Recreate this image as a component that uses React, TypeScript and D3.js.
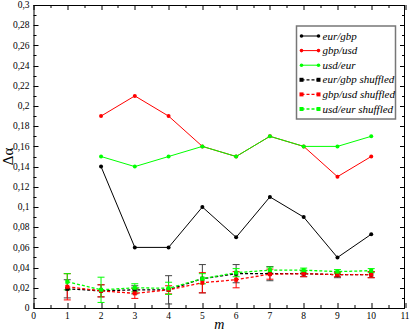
import React from 'react';
import * as d3 from 'd3';

// m values
const mMain = [2, 3, 4, 5, 6, 7, 8, 9, 10];
const mShuf = [1, 2, 3, 4, 5, 6, 7, 8, 9, 10];

const eurGbp = [0.14, 0.06, 0.06, 0.10, 0.07, 0.11, 0.09, 0.05, 0.073];
const gbpUsd = [0.19, 0.21, 0.19, 0.16, 0.15, 0.17, 0.16, 0.13, 0.15];
const usdEur = [0.15, 0.14, 0.15, 0.16, 0.15, 0.17, 0.16, 0.16, 0.17];

const eurGbpSh = [0.019, 0.017, 0.018, 0.018, 0.029, 0.034, 0.034, 0.034, 0.033, 0.033];
const eurGbpShErr = [0.009, 0.006, 0.004, 0.014, 0.014, 0.009, 0.007, 0.003, 0.003, 0.003];
const gbpUsdSh = [0.021, 0.017, 0.0145, 0.018, 0.025, 0.028, 0.0335, 0.034, 0.033, 0.033];
const gbpUsdShErr = [0.013, 0.006, 0.005, 0.004, 0.010, 0.008, 0.005, 0.003, 0.002, 0.003];
const usdEurSh = [0.026, 0.018, 0.020, 0.0195, 0.029, 0.035, 0.0375, 0.0375, 0.036, 0.037];
const usdEurShErr = [0.008, 0.0125, 0.004, 0.006, 0.005, 0.004, 0.003, 0.002, 0.002, 0.002];

const legendLabels = ['eur/gbp', 'gbp/usd', 'usd/eur', 'eur/gbp shuffled', 'gbp/usd shuffled', 'usd/eur shuffled'];
const colors = ['#000000', '#ff0000', '#00ff00'];

const xTicks = d3.range(0, 12);
const yTicks = d3.range(0, 0.301, 0.02);

export default function App() {
    const container = React.useRef<SVGGElement | null>(null);

    const W = 415, H = 332;
    const margin = { top: 5, right: 10, bottom: 24, left: 33.5 };
    const width = W - margin.left - margin.right;
    const height = H - margin.top - margin.bottom;

    React.useEffect(() => {
        if (!container.current) return;
        const g = d3.select(container.current);
        g.selectAll('*').remove();

        const x = d3.scaleLinear().domain([0, 11]).range([0, width]);
        const y = d3.scaleLinear().domain([0, 0.3]).range([height, 0]);
        const font = 'Liberation Serif, Times New Roman, serif';

        // ticks (inward, all four sides)
        const tk = g.append('g').attr('stroke', '#000').attr('stroke-width', 1);
        d3.range(0, 11.01, 0.5).forEach(v => {
            const len = Number.isInteger(v) ? 5 : 3;
            const px = Math.round(x(v)) + 0.5;
            tk.append('line').attr('x1', px).attr('x2', px).attr('y1', height).attr('y2', height - len);
            tk.append('line').attr('x1', px).attr('x2', px).attr('y1', 0).attr('y2', len);
        });
        d3.range(0, 0.3001, 0.01).forEach((v, i) => {
            const len = i % 2 === 0 ? 5 : 3;
            const py = Math.round(y(v)) + 0.5;
            tk.append('line').attr('x1', 0).attr('x2', len).attr('y1', py).attr('y2', py);
            tk.append('line').attr('x1', width).attr('x2', width - len).attr('y1', py).attr('y2', py);
        });

        g.append('rect').attr('x', 0.5).attr('y', 0.5).attr('width', width - 1).attr('height', height)
            .attr('fill', 'none').attr('stroke', '#000').attr('stroke-width', 1);

        // tick labels
        g.selectAll('.xl').data(xTicks).join('text').attr('class', 'xl')
            .attr('x', d => x(d)).attr('y', height + 11)
            .attr('text-anchor', 'middle').attr('font-family', font).attr('font-size', 9.5)
            .text(d => String(d));
        g.selectAll('.yl').data(yTicks).join('text').attr('class', 'yl')
            .attr('x', -4).attr('y', d => y(d) + 3.2)
            .attr('text-anchor', 'end').attr('font-family', font).attr('font-size', 9.5)
            .text(d => d === 0 ? '0' : d3.format('.2~f')(d).replace('.', ','));

        g.append('text').attr('x', x(5.5)).attr('y', height + 21)
            .attr('text-anchor', 'middle').attr('font-family', font).attr('font-size', 14)
            .attr('font-style', 'italic').text('m');
        g.append('text').attr('transform', `translate(${-21},${y(0.15)}) rotate(-90)`)
            .attr('text-anchor', 'middle').attr('font-family', font).attr('font-size', 15)
            .text('Δα');

        const line = d3.line<[number, number]>().x(d => x(d[0])).y(d => y(d[1]));

        // shuffled series with error bars
        const shuf = [
            { v: eurGbpSh, e: eurGbpShErr, c: colors[0], ec: '#444' },
            { v: gbpUsdSh, e: gbpUsdShErr, c: colors[1], ec: '#ff0000' },
            { v: usdEurSh, e: usdEurShErr, c: colors[2], ec: '#00ff00' },
        ];
        shuf.forEach(s => {
            const eb = g.append('g').attr('stroke', s.ec).attr('stroke-width', 1);
            mShuf.forEach((m, i) => {
                const px = x(m), y1 = y(s.v[i] + s.e[i]), y0 = y(s.v[i] - s.e[i]);
                eb.append('line').attr('x1', px).attr('x2', px).attr('y1', y1).attr('y2', y0);
                eb.append('line').attr('x1', px - 3.5).attr('x2', px + 3.5).attr('y1', y1).attr('y2', y1);
                eb.append('line').attr('x1', px - 3.5).attr('x2', px + 3.5).attr('y1', y0).attr('y2', y0);
            });
        });
        shuf.forEach(s => {
            const pts = mShuf.map((m, i) => [m, s.v[i]] as [number, number]);
            g.append('path').attr('d', line(pts)).attr('fill', 'none').attr('stroke', s.c)
                .attr('stroke-width', 1.3).attr('stroke-dasharray', '3,2');
            g.selectAll(null).data(pts).join('rect')
                .attr('x', d => x(d[0]) - 2).attr('y', d => y(d[1]) - 2)
                .attr('width', 4).attr('height', 4).attr('fill', s.c);
        });

        // main series
        [eurGbp, gbpUsd, usdEur].forEach((vals, k) => {
            const pts = mMain.map((m, i) => [m, vals[i]] as [number, number]);
            g.append('path').attr('d', line(pts)).attr('fill', 'none').attr('stroke', colors[k])
                .attr('stroke-width', 1);
            g.selectAll(null).data(pts).join('circle')
                .attr('cx', d => x(d[0])).attr('cy', d => y(d[1])).attr('r', 2).attr('fill', colors[k]);
        });

        // legend
        const lg = g.append('g').attr('transform', `translate(${296.5 - margin.left},${26 - margin.top})`);
        lg.append('rect').attr('width', 99).attr('height', 93).attr('fill', '#fff')
            .attr('stroke', '#777').attr('stroke-width', 1.5);
        legendLabels.forEach((lab, i) => {
            const ly = 10 + i * 14.6;
            const c = colors[i % 3];
            const dashed = i >= 3;
            lg.append('line').attr('x1', 5).attr('x2', 22).attr('y1', ly).attr('y2', ly)
                .attr('stroke', c).attr('stroke-width', dashed ? 1.3 : 1)
                .attr('stroke-dasharray', dashed ? '3,2' : null);
            [5, 22].forEach(px => {
                if (dashed) lg.append('rect').attr('x', px - 2).attr('y', ly - 2).attr('width', 4).attr('height', 4).attr('fill', c);
                else lg.append('circle').attr('cx', px).attr('cy', ly).attr('r', 1.8).attr('fill', c);
            });
            lg.append('text').attr('x', 26).attr('y', ly + 3.5).attr('font-family', font)
                .attr('font-size', 11).attr('font-style', 'italic').text(lab);
        });
    }, []);

    return <svg width={W} height={H} style={{ position: 'absolute', left: 0, top: 0, background: '#fff' }}>
        <g ref={container} transform={`translate(${margin.left},${margin.top})`} />
    </svg>;
}
